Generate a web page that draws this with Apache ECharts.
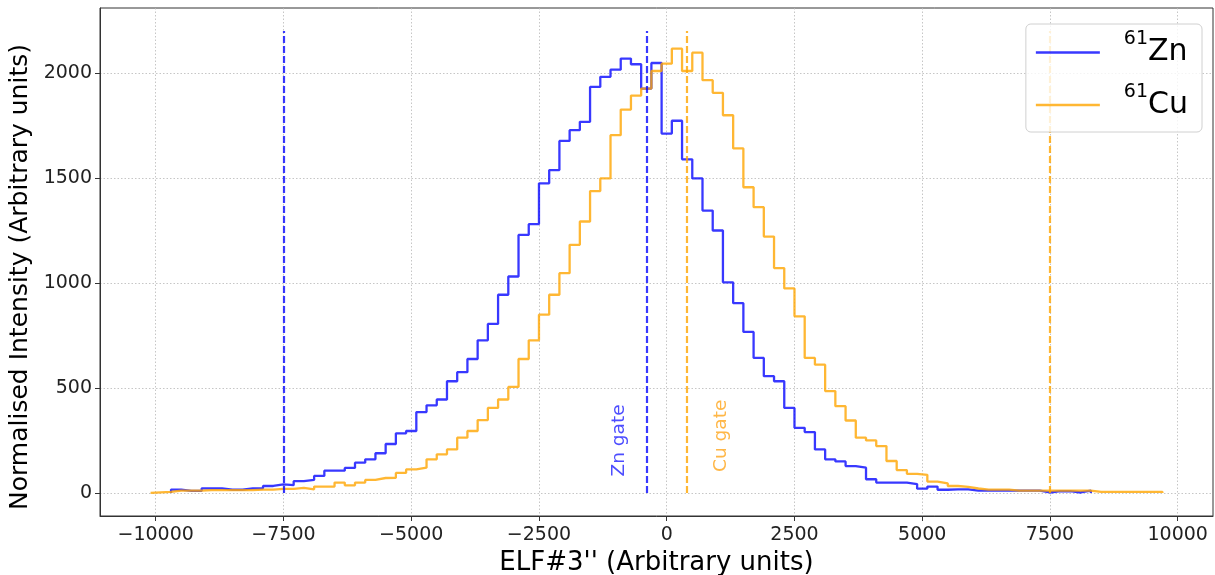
<!DOCTYPE html>
<html>
<head>
<meta charset="utf-8">
<script src="https://cdn.jsdelivr.net/npm/echarts@6.0.0/dist/echarts.min.js"></script>
<style>
html,body{margin:0;padding:0;background:#fff;}
#chart{width:1215px;height:575px;}
</style>
</head>
<body>
<div id="chart"></div>
<script>
// ---- data ----
const BIN_WIDTH = 200;
const ZN_START = -9700;   // first bin edge of 61Zn histogram
const CU_START = -10100;  // first bin edge of 61Cu histogram
const ZN_VALUES = [16,10,10,22,22,16,16,22,22,33,41,37,56,62,81,106,106,119,144,160,
  189,233,284,295,385,417,445,532,575,638,727,805,944,1031,1229,1280,1475,1538,1677,1728,
  1768,1934,1982,2016,2069,2042,1926,2048,1712,1773,1589,1498,1345,1250,1003,904,767,643,556,532,
  405,310,290,207,160,150,128,120,65,49,49,49,42,20,30,15,17,17,11,11,
  11,11,11,11,11,2,8,8,2,11];
const CU_VALUES = [3,5,11,11,11,13,13,13,13,13,16,16,19,19,24,17,30,30,49,36,
  49,62,71,72,95,112,120,160,184,207,263,295,347,405,445,505,638,727,849,944,
  1047,1182,1293,1438,1498,1704,1826,1893,1926,2010,2045,2116,2010,2097,1966,1906,1799,1641,1456,1361,
  1221,1071,974,841,643,611,485,413,345,263,250,223,152,109,91,86,54,45,33,29,
  21,16,16,16,11,11,11,11,11,11,11,11,5,5,5,5,5,5,5];
const ZN_GATES = [-7500, -400];
const CU_GATES = [400, 7500];
const GATE_TOP = 2200;
const X_TICKS = [-10000,-7500,-5000,-2500,0,2500,5000,7500,10000];
const Y_TICKS = [0,500,1000,1500,2000];
const X_RANGE = [-11090, 10690];
const Y_RANGE = [-110, 2310];
const MASS = '61';
const LABELS = ['Zn','Cu'];
const GATE_TEXT = ['Zn gate','Cu gate'];
const GATE_TEXT_POS = [[-930, 250], [1060, 272]];

// ---- styling ----
const ZN_COLOR = 'rgba(0,0,255,0.78)';
const CU_COLOR = 'rgba(255,165,0,0.8)';
const FONT = 'DejaVu Sans';

function stepData(start, vals){
  const pts = [[start, 0]];
  vals.forEach((v,i)=>pts.push([start + i*BIN_WIDTH, v]));
  const end = start + vals.length*BIN_WIDTH;
  pts.push([end, vals[vals.length-1]]);
  pts.push([end, 0]);
  return pts;
}
function gateLines(xs){
  return xs.map(x=>[{coord:[x,0]},{coord:[x,GATE_TOP]}]);
}
const minus = v => String(v).replace('-', '\u2212');

const chart = echarts.init(document.getElementById('chart'), null, {renderer:'canvas'});
chart.setOption({
  animation:false,
  backgroundColor:'#fff',
  grid:{left:100, right:2, top:8, bottom:59, containLabel:false, outerBoundsMode:'none',
    show:true, borderColor:'#333', borderWidth:1, backgroundColor:'transparent'},
  xAxis:{
    type:'value', min:X_RANGE[0], max:X_RANGE[1],
    name:"ELF#3'' (Arbitrary units)", nameLocation:'middle', nameGap:34,
    nameTextStyle:{fontFamily:FONT, fontSize:26, color:'#000'},
    axisLine:{show:true, onZero:false, lineStyle:{color:'#333', width:1}},
    axisTick:{show:true, inside:false, length:5, customValues:X_TICKS, lineStyle:{color:'#333'}},
    axisLabel:{customValues:X_TICKS, formatter:minus, fontFamily:FONT, fontSize:19, color:'#222', margin:10},
    splitLine:{show:true, lineStyle:{color:'#b8b8b8', type:[1.5,2], width:0.8}}
  },
  yAxis:{
    type:'value', min:Y_RANGE[0], max:Y_RANGE[1],
    name:'Normalised Intensity (Arbitrary units)', nameLocation:'middle', nameGap:67,
    nameTextStyle:{fontFamily:FONT, fontSize:25, color:'#000', padding:[0,30,0,0]},
    axisLine:{show:true, onZero:false, lineStyle:{color:'#333', width:1}},
    axisTick:{show:true, inside:false, length:5, customValues:Y_TICKS, lineStyle:{color:'#333'}},
    axisLabel:{customValues:Y_TICKS, formatter:v=>String(v), fontFamily:FONT, fontSize:19, color:'#222', margin:8},
    splitLine:{show:true, lineStyle:{color:'#b8b8b8', type:[1.5,2], width:0.8}}
  },
  legend:{
    data:LABELS, orient:'vertical', right:13, top:24, z:20,
    icon:'rect', itemWidth:64, itemHeight:2.5, itemGap:15,
    padding:[6,14,12,10],
    backgroundColor:'rgba(255,255,255,0.8)', borderColor:'#d0d0d0', borderWidth:1, borderRadius:5,
    formatter: n => '{sup|' + MASS + '}{main|' + n + '}',
    textStyle:{
      fontFamily:FONT, color:'#000',
      rich:{
        sup:{fontFamily:FONT, fontSize:19, verticalAlign:'top', lineHeight:45, padding:[0,0,0,19], color:'#000'},
        main:{fontFamily:FONT, fontSize:30, lineHeight:45, color:'#000'}
      }
    }
  },
  series:[
    {
      name:LABELS[0], type:'line', step:'end', showSymbol:false, symbol:'none',
      data:stepData(ZN_START, ZN_VALUES),
      lineStyle:{color:ZN_COLOR, width:2.3}, itemStyle:{color:ZN_COLOR},
      markLine:{silent:true, symbol:'none', label:{show:false},
        lineStyle:{color:ZN_COLOR, type:[7,3], width:2.2}, data:gateLines(ZN_GATES)},
      z:2
    },
    {
      name:LABELS[1], type:'line', step:'end', showSymbol:false, symbol:'none',
      data:stepData(CU_START, CU_VALUES),
      lineStyle:{color:CU_COLOR, width:2.3}, itemStyle:{color:CU_COLOR},
      markLine:{silent:true, symbol:'none', label:{show:false},
        lineStyle:{color:CU_COLOR, type:[7,3], width:2.2}, data:gateLines(CU_GATES)},
      z:3
    },
    {
      name:'gate labels', type:'scatter', symbolSize:0, silent:true,
      data:[
        {value:GATE_TEXT_POS[0], name:GATE_TEXT[0], label:{color:'#2020ff'}},
        {value:GATE_TEXT_POS[1], name:GATE_TEXT[1], label:{color:'#ffa51a'}}
      ],
      label:{show:true, position:'inside', rotate:90, formatter:p=>p.name, fontFamily:FONT, fontSize:18.5},
      z:4
    }
  ]
});
</script>
</body>
</html>
